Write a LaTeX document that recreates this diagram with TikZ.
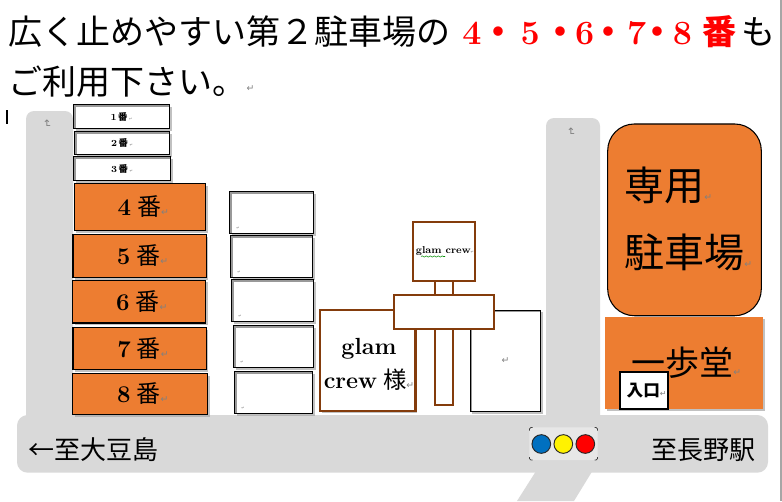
\documentclass[tikz,border=0pt]{standalone}
\usepackage{xcolor}
\usepackage{fontspec}
\usetikzlibrary{calc, shadows, decorations.pathmorphing}
\newfontfamily\cjk{Noto Sans CJK JP}
\newfontfamily\markfont{DejaVu Sans}
\definecolor{croad}{HTML}{D9D9D9}
\definecolor{corange}{HTML}{ED7D31}
\definecolor{cbrown}{HTML}{843C0C}
\definecolor{cmark}{HTML}{808080}
\definecolor{clight}{HTML}{E7E7E7}
\definecolor{cblue}{HTML}{0070C0}
\newcommand{\pmark}[1][7]{{\markfont\mdseries\fontsize{#1}{#1}\selectfont\color{cmark}↵}}
\newcommand{\ban}{{\cjk\mdseries 番}}
\tikzset{
    softshadow/.style={drop shadow={shadow xshift=1.5pt, shadow yshift=-1.5pt, fill=black!35, opacity=0.7}},
    innershade/.style={path picture={\draw[black!40, line width=3pt] (path picture bounding box.south west) -- (path picture bounding box.north west) -- (path picture bounding box.north east);}},
    road/.style={fill=croad, draw=none},
    smalllot/.style={rectangle, draw=black, line width=0.8pt, fill=white, softshadow, innershade, inner sep=0pt, font=\fontsize{7}{8}\selectfont\bfseries},
    biglot/.style={rectangle, draw=black, line width=0.8pt, fill=corange, softshadow, inner sep=0pt, font=\fontsize{18}{20}\selectfont\bfseries},
    emptylot/.style={rectangle, draw=black, line width=0.8pt, fill=white, softshadow, innershade, inner sep=0pt},
    brownbox/.style={rectangle, draw=cbrown, line width=1.6pt, fill=white, inner sep=0pt},
    lamp/.style={circle, draw=black!85, line width=0.7pt, minimum size=14pt, inner sep=0pt},
    title/.style={anchor=west, inner sep=0pt, font=\fontsize{25.5}{28}\selectfont},
    roadtext/.style={inner sep=0pt, font=\fontsize{19.5}{22}\selectfont\cjk},
    bigtext/.style={anchor=west, inner sep=0pt, font=\fontsize{30}{32}\selectfont\cjk},
}
\begin{document}
\begin{tikzpicture}[x=0.75pt, y=-0.75pt]
    \useasboundingbox (0,0) rectangle (782,501);
    % title lines
    \node (line1) [title] at (8,32) {\cjk 広く止めやすい第２駐車場の};
    \node (red1) [title, text=red] at (462,32) {\bfseries 4{\cjk ・}\hspace{4pt}5\hspace{3pt}{\cjk ・}\hspace{-2pt}6\hspace{-2pt}{\cjk ・}\hspace{1pt}7\hspace{-4pt}{\cjk ・}\hspace{-1.5pt}8\hspace{8pt}{\cjk 番}};
    \node (line1b) [title] at (741,32) {\cjk も};
    \node (line2) [title] at (8,82) {\cjk ご利用下さい。};
    \node (line2m) [inner sep=0pt] at (250.5,89) {\pmark};
    \node (cursor) [fill=black, minimum width=1.5pt, minimum height=10.5pt, inner sep=0pt] at (6.5,117) {};
    % roads
    \fill[road, rounded corners=6pt] (26,111) rectangle (73,440);
    \fill[road, rounded corners=6pt] (546,118) rectangle (600,440);
    \fill[road] (536.7,470) -- (593,470) -- (574,501) -- (517,501) -- cycle;
    \fill[road, rounded corners=8pt] (17,415) rectangle (768,472.7);
    \node (markl) [rotate=-90, inner sep=0pt] at (47,124) {\pmark[8]};
    \node (markr) [rotate=-90, inner sep=0pt] at (571,132) {\pmark[8]};
    \node (toizu) [roadtext, anchor=west] at (28,450) {←至大豆島};
    \node (tonagano) [roadtext, anchor=east] at (756,450) {至長野駅};
    % parking lots
    \node (lot1) [smalllot, minimum width=72pt, minimum height=18pt] at (121.5,116.5) {1\,{\cjk 番}\,\pmark[3]};
    \node (lot2) [smalllot, minimum width=71.25pt, minimum height=17.25pt] at (122,143) {2\,{\cjk 番}\,\pmark[3]};
    \node (lot3) [smalllot, minimum width=72.75pt, minimum height=18pt] at (122,168.5) {3\,{\cjk 番}\,\pmark[3]};
    \node (lot4) [biglot, minimum width=98.6pt, minimum height=35.25pt] at (140,207) {\hspace{5pt}4\hspace{4.5pt}\ban\pmark};
    \node (lot5) [biglot, minimum width=100.1pt, minimum height=32.25pt] at (139.75,256) {\hspace{4pt}5\hspace{4.5pt}\ban\pmark};
    \node (lot6) [biglot, minimum width=99.75pt, minimum height=31.9pt] at (139,301.75) {\hspace{4pt}6\hspace{4.5pt}\ban\pmark};
    \node (lot7) [biglot, minimum width=100.1pt, minimum height=31.5pt] at (139.75,348.5) {\hspace{5pt}7\hspace{4.5pt}\ban\pmark};
    \node (lot8) [biglot, minimum width=101.25pt, minimum height=30.75pt] at (140,394) {\hspace{4pt}8\hspace{4.5pt}\ban\pmark};
    \foreach \n/\cx/\cy/\w in {a/271.5/212.5/84, b/271.5/256.5/82, c/272.5/300.5/82, d/273.5/346.5/80, e/273.5/392.5/78} {
        \node (free\n) [emptylot, minimum width=0.75pt*\w, minimum height=31.5pt] at (\cx,\cy) {};
        \node (mark\n) [inner sep=0pt] at ($(free\n.south west)+(9,-6)$) {\pmark[3]};
    }
    % shop and sign
    \node (shop) [brownbox, softshadow, minimum width=71.6pt, minimum height=76.1pt] at (367.75,360.5) {};
    \node (shopt) [inner sep=0pt, align=center, font=\fontsize{17.5}{25.5}\selectfont\bfseries] at (369,364) {glam\\crew\hspace{4.5pt}{\cjk\mdseries 様}\pmark};
    \node (next) [emptylot, minimum width=52.8pt, minimum height=75.8pt] at (505.5,361) {\pmark};
    \node (pole) [brownbox, minimum width=14pt, minimum height=93pt] at (444,343) {};
    \node (sign) [brownbox, minimum width=46.7pt, minimum height=44pt] at (443.85,251.75) {};
    \node (signt) [inner sep=0pt, font=\fontsize{7.5}{9}\selectfont\bfseries] at (445,251) {glam crew\pmark[3]};
    \node (bar) [brownbox, minimum width=75.5pt, minimum height=25.7pt] at (444,312.15) {};
    \draw[green!55!black, line width=0.4pt, decorate, decoration={snake, amplitude=0.5pt, segment length=3pt}] (421,256.5) -- (445,256.5);
    % right side
    \node (parking) [rectangle, draw=black, line width=0.8pt, fill=corange, rounded corners=20pt, minimum width=115.2pt, minimum height=143.8pt] at (684.5,219.85) {};
    \node (sen) [bigtext] at (624,185) {専用\pmark};
    \node (chu) [bigtext] at (624,252) {駐車場\pmark};
    \node (ippo) [rectangle, fill=corange, softshadow, minimum width=118.5pt, minimum height=69pt, inner sep=0pt] at (684,363) {};
    \node (ippot) [bigtext, font=\fontsize{25.5}{28}\selectfont\cjk] at (631,363) {一歩堂\pmark};
    \node (door) [rectangle, draw=black, line width=1.6pt, fill=white, minimum width=36.4pt, minimum height=27.7pt, inner sep=0pt, font=\fontsize{12.5}{14}\selectfont\cjk\bfseries] at (644,390.5) {\hspace{4pt}入口\pmark[6]};
    % traffic light
    \node (signal) [rectangle, fill=clight, rounded corners=2pt, minimum width=51.3pt, minimum height=24.5pt, inner sep=0pt] at (563.5,443.7) {};
    \foreach \cx/\cy/\sx/\sy in {529.5/427.5/1/1, 597.5/427.5/-1/1, 529.5/460/1/-1, 597.5/460/-1/-1}
        \draw[black!75, line width=0.6pt, rounded corners=1pt] (\cx+3*\sx,\cy) -- (\cx,\cy) -- (\cx,\cy+3*\sy);
    \node (lampb) [lamp, fill=cblue] at (541.3,444) {};
    \node (lampy) [lamp, fill=yellow] at (563.3,444) {};
    \node (lampr) [lamp, fill=red] at (585.3,444) {};
    % window edge
    \draw[black!35, line width=0.8pt] (781,0) -- (781,501);
\end{tikzpicture}
\end{document}
